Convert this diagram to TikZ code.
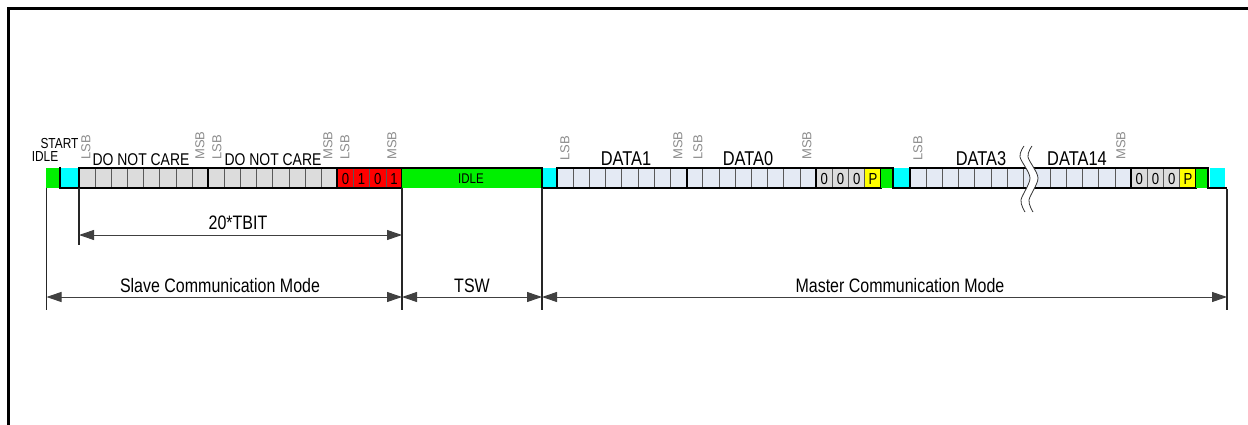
\documentclass[tikz,border=0pt]{standalone}
\usepackage{fontspec}
\setmainfont{Liberation Sans}
\newfontfamily\nf[FakeStretch=0.82]{Liberation Sans}
\usetikzlibrary{arrows.meta}
\definecolor{cellgray}{HTML}{DCDCDC}
\definecolor{cellblue}{HTML}{E4EAF4}
\definecolor{idlegreen}{HTML}{00F000}
\definecolor{startcyan}{HTML}{00FFFF}
\definecolor{lblgray}{HTML}{8C8C8C}
\definecolor{bitred}{HTML}{FF0000}
\definecolor{bityellow}{HTML}{FFFF00}
\newcommand\cellrow[4]{% x0, n, width, fill
  \foreach \k in {1,...,#2}{%
    \draw[fill=#4, draw=black!65, line width=0.7pt] ({#1+(\k-1)*#3},168) rectangle ({#1+\k*#3},188);
  }%
}
\tikzset{
  grp/.style={draw=black, line width=2pt},
  wave/.style={draw=black, line width=2pt},
  extline/.style={draw=black!85, line width=1.1pt},
  dimline/.style={draw=black!75, line width=1pt, {Triangle[length=15pt,width=10pt]}-{Triangle[length=15pt,width=10pt]}},
  bitlabel/.style={text=lblgray, font=\fontsize{13}{13}\selectfont, rotate=90, anchor=west, inner sep=0pt},
  bytelabel/.style={font=\nf\fontsize{20}{20}\selectfont, anchor=base, inner sep=0pt},
  dnclabel/.style={font=\nf\fontsize{17}{17}\selectfont, anchor=base, inner sep=0pt},
  smalllabel/.style={font=\nf\fontsize{14.5}{14.5}\selectfont, anchor=base, inner sep=0pt},
  digit/.style={font=\nf\fontsize{16}{16}\selectfont, anchor=base, inner sep=0pt},
  dimlabel/.style={font=\nf\fontsize{19.5}{19.5}\selectfont, anchor=base, inner sep=0pt},
}
\begin{document}
\begin{tikzpicture}[x=1pt,y=-1pt]
\useasboundingbox (0,0) rectangle (1248,425);
% frame
\draw[line width=3pt] (8.5,426) -- (8.5,8.5) -- (1249,8.5);

% ---- first idle / start
\fill[idlegreen] (46,168) rectangle (60,188);
\fill[startcyan] (61,168) rectangle (78,187);
\draw[wave] (60,167) -- (60,188) -- (79,188);

% ---- slave bytes
\cellrow{79}{8}{16.15}{cellgray}
\cellrow{208.2}{8}{16.15}{cellgray}
\cellrow{337.4}{4}{16.15}{bitred}
\draw[grp] (79,168) rectangle (208.2,188);
\draw[grp] (208.2,168) rectangle (337.4,188);
\draw[grp] (337.4,168) rectangle (402,188);
\node[digit] (b0) at (345.5,184.8) {0};
\node[digit] (b1) at (361.6,184.8) {1};
\node[digit] (b2) at (377.8,184.8) {0};
\node[digit] (b3) at (393.9,184.8) {1};

% ---- idle (TSW)
\fill[idlegreen] (402,168) rectangle (541.5,188);
\fill[startcyan] (542.5,168) rectangle (557,187);
\draw[wave] (402,168) -- (541.5,168) -- (541.5,188) -- (557,188);
\node[smalllabel, font=\nf\fontsize{14}{14}\selectfont] (idlemid) at (471,183) {IDLE};

% ---- DATA1, DATA0
\cellrow{557}{8}{16.2}{cellblue}
\cellrow{686.6}{8}{16.2}{cellblue}
\cellrow{816.2}{3}{16.2}{cellgray}
\cellrow{864.8}{1}{16.2}{bityellow}
\draw[grp] (557,168) rectangle (686.6,188);
\draw[grp] (686.6,168) rectangle (816.2,188);
\draw[grp] (816.2,168) rectangle (881,188);
\node[digit] (z0) at (824.3,184.8) {0};
\node[digit] (z1) at (840.5,184.8) {0};
\node[digit] (z2) at (856.7,184.8) {0};
\node[digit] (p0) at (872.9,184.8) {P};

% stop / start
\fill[idlegreen] (881,168) rectangle (893,188);
\fill[startcyan] (894,168) rectangle (910,187);
\draw[wave] (881,168) -- (893,168) -- (893,188) -- (910,188);

% ---- DATA3 ... DATA14
\cellrow{910}{7}{16.2}{cellblue}
\cellrow{1023.4}{1}{16.2}{cellblue}
\cellrow{1034}{6}{16.2}{cellblue}
\cellrow{1131.2}{3}{16.2}{cellgray}
\cellrow{1179.8}{1}{16.2}{bityellow}
\draw[grp] (910,168) rectangle (1131.2,188);
\draw[grp] (1131.2,168) rectangle (1196,188);
\node[digit] (z3) at (1139.3,184.8) {0};
\node[digit] (z4) at (1155.5,184.8) {0};
\node[digit] (z5) at (1171.7,184.8) {0};
\node[digit] (p1) at (1187.9,184.8) {P};

% break marks
\fill[white] plot[smooth] coordinates {(1024,146) (1020,157) (1030,178) (1021,200) (1025,212)}
  -- plot[smooth] coordinates {(1033,212) (1029,200) (1038,178) (1028,157) (1032,146)} -- cycle;
\draw[black!80, line width=0.8pt] plot[smooth] coordinates {(1024,146) (1020,157) (1030,178) (1021,200) (1025,212)};
\draw[black!80, line width=0.8pt] plot[smooth] coordinates {(1032,146) (1028,157) (1038,178) (1029,200) (1033,212)};

% final stop / start
\fill[idlegreen] (1196,168) rectangle (1208,188);
\fill[startcyan] (1210,168) rectangle (1225,187);
\draw[wave] (1196,168) -- (1208,168) -- (1208,188) -- (1227,188);

% ---- labels above the bar
\node[smalllabel] (idle0) at (45,162) {IDLE};
\node[smalllabel] (start0) at (59.5,148.3) {START};
\node[dnclabel] (dnc1) at (141,165) {DO NOT CARE};
\node[dnclabel] (dnc2) at (273,165) {DO NOT CARE};
\node[bytelabel] (d1) at (626,165) {DATA1};
\node[bytelabel] (d0) at (748,165) {DATA0};
\node[bytelabel] (d3) at (981,165) {DATA3};
\node[bytelabel] (d14) at (1077,165) {DATA14};

\node[bitlabel] (l1) at (86,160) {LSB};
\node[bitlabel] (m1) at (200,160) {MSB};
\node[bitlabel] (l2) at (217,160) {LSB};
\node[bitlabel] (m2) at (328,160) {MSB};
\node[bitlabel] (l3) at (345,160) {LSB};
\node[bitlabel] (m3) at (392,160) {MSB};
\node[bitlabel] (l4) at (565,161) {LSB};
\node[bitlabel] (m4) at (678,160) {MSB};
\node[bitlabel] (l5) at (698,160) {LSB};
\node[bitlabel] (m5) at (807,160) {MSB};
\node[bitlabel] (l6) at (918,161) {LSB};
\node[bitlabel] (m6) at (1121,160) {MSB};

% ---- extension lines
\coordinate (e0t) at (46.5,188);  \coordinate (e0b) at (46.5,310);
\coordinate (e1t) at (79,188);    \coordinate (e1b) at (79,245);
\coordinate (e2t) at (402,188);   \coordinate (e2b) at (402,310);
\coordinate (e3t) at (542,188);   \coordinate (e3b) at (542,310);
\coordinate (e4t) at (1227,189);  \coordinate (e4b) at (1227,310);
\draw[extline] (e0t) -- (e0b);
\draw[extline] (e1t) -- (e1b);
\draw[extline] (e2t) -- (e2b);
\draw[extline] (e3t) -- (e3b);
\draw[extline] (e4t) -- (e4b);

% ---- dimension lines
\coordinate (t1) at (79,235);   \coordinate (t2) at (402,235);
\coordinate (s1) at (46.5,297); \coordinate (s2) at (402,297);
\coordinate (w1) at (402,297);  \coordinate (w2) at (542,297);
\coordinate (m1a) at (542,297); \coordinate (m2a) at (1227,297);
\draw[dimline] (t1) -- (t2);
\draw[dimline] (s1) -- (s2);
\draw[dimline] (w1) -- (w2);
\draw[dimline] (m1a) -- (m2a);
\node[dimlabel] (tbit) at (238,229) {20*TBIT};
\node[dimlabel] (slave) at (220,292) {Slave Communication Mode};
\node[dimlabel] (tsw) at (472,292) {TSW};
\node[dimlabel] (master) at (900,292) {Master Communication Mode};
\end{tikzpicture}
\end{document}
